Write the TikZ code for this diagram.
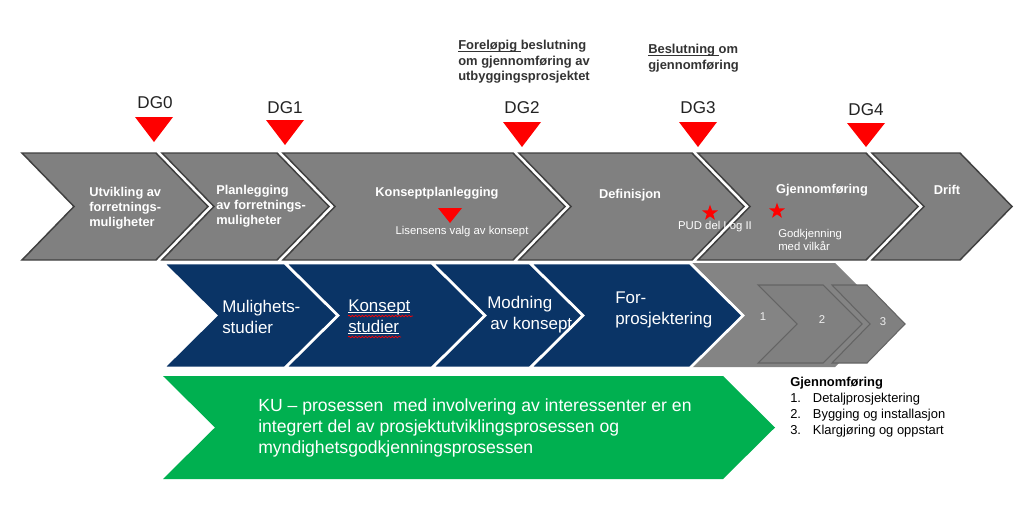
\documentclass[tikz,border=0pt]{standalone}
\usepackage{fontspec}
\setmainfont{Liberation Sans}
\usetikzlibrary{shapes.geometric,decorations.pathmorphing}
\definecolor{chgrey}{RGB}{128,128,128}
\definecolor{chgreyb}{RGB}{132,132,132}
\definecolor{chborder}{RGB}{64,64,64}
\definecolor{execline}{RGB}{100,100,100}
\definecolor{navy}{RGB}{10,52,102}
\definecolor{kugreen}{RGB}{0,176,80}
\definecolor{dgtext}{RGB}{34,34,34}
\definecolor{toptext}{RGB}{51,51,51}
\definecolor{numtext}{RGB}{238,238,238}
\newcommand{\chevshape}[6]{% style, L, R, top, bottom, depth
  \path[#1] (#2,#4) -- (#3,#4) -- ({#3+#6},{(#4+#5)/2}) -- (#3,#5) -- (#2,#5) -- ({#2+#6},{(#4+#5)/2}) -- cycle;}
\newcommand{\dgtri}[4]{% cx, top, bottom, halfwidth
  \fill[red] ({#1-#4},#2) -- ({#1+#4},#2) -- (#1,#3) -- cycle;}
\newsavebox{\ulbox}
\newcommand{\ulword}[1]{\sbox{\ulbox}{#1}\rlap{\rule[-1.4pt]{\wd\ulbox}{0.6pt}}\usebox{\ulbox}}
\tikzset{
  toprow/.style={fill=chgrey, draw=chborder, line width=1.1pt, line join=miter},
  bluerow/.style={fill=navy, draw=white, line width=2pt, line join=miter},
  greenrow/.style={fill=kugreen},
  execbig/.style={fill=chgreyb},
  execsmall/.style={fill=chgrey, draw=execline, line width=0.8pt, line join=miter},
  phasetxt/.style={text=white, inner sep=0pt, align=left, font=\fontsize{9.6}{11.25}\selectfont\bfseries},
  smalltxt/.style={text=white, inner sep=0pt, align=left, font=\fontsize{8.5}{9.75}\selectfont},
  bluetxt/.style={text=white, inner sep=0pt, align=left, font=\fontsize{12.7}{15.75}\selectfont},
  greentxt/.style={text=white, inner sep=0pt, align=left, font=\fontsize{13.2}{15.75}\selectfont},
  dglabel/.style={text=dgtext, inner sep=0pt, font=\fontsize{12.8}{14}\selectfont},
  toplabel/.style={text=toptext, inner sep=0pt, align=left, font=\fontsize{9.7}{11.6}\selectfont\bfseries},
  listtxt/.style={text=black, inner sep=0pt, align=left, font=\fontsize{9.7}{12}\selectfont},
  numtxt/.style={text=numtext, inner sep=0pt, font=\fontsize{8.5}{10}\selectfont},
  redstar/.style={star, star points=5, star point ratio=2.5, fill=red, inner sep=0pt, minimum size=12.5pt},
  squiggle/.style={red, line width=0.5pt, decorate, decoration={snake, amplitude=0.6pt, segment length=2.5pt}}
}
\begin{document}
\begin{tikzpicture}[x=0.75pt,y=-0.75pt]
\useasboundingbox[fill=white] (0,0) rectangle (1023,529);

% ---------- top row of phases ----------
\chevshape{toprow}{22}{156}{153}{260}{52}
\chevshape{toprow}{162}{277}{153}{260}{52}
\chevshape{toprow}{283}{513}{153}{260}{52}
\chevshape{toprow}{519}{692}{153}{260}{52}
\chevshape{toprow}{698}{866}{153}{260}{52}
\chevshape{toprow}{872}{960}{153}{260}{52}

\node[phasetxt, anchor=west] (p1) at (89,208) {Utvikling av\\forretnings-\\muligheter};
\node[phasetxt, anchor=west] (p2) at (216,206) {Planlegging\\av forretnings-\\muligheter};
\node[phasetxt] (p3) at (437,193) {Konseptplanlegging};
\node[phasetxt] (p4) at (630,195) {Definisjon};
\node[phasetxt] (p5) at (822,190) {Gjennomføring};
\node[phasetxt] (p6) at (947,190) {Drift};

\dgtri{450}{208}{223}{12}
\node[smalltxt] (lis) at (462,232) {Lisensens valg av konsept};
\node[redstar] (s1) at (710,213) {};
\node[smalltxt] (pud) at (715,227) {PUD del I og II};
\node[redstar] (s2) at (777,211) {};
\node[smalltxt, anchor=west] (godk) at (778,240) {Godkjenning\\med vilkår};

% ---------- decision gates ----------
\dgtri{154}{117}{142}{19}
\dgtri{285}{120}{145}{19}
\dgtri{522}{122}{147}{19}
\dgtri{698}{122}{147}{19}
\dgtri{866}{123}{147}{19}
\node[dglabel] (dg0) at (155,103) {DG0};
\node[dglabel] (dg1) at (285,108) {DG1};
\node[dglabel] (dg2) at (522,108) {DG2};
\node[dglabel] (dg3) at (698,108) {DG3};
\node[dglabel] (dg4) at (866,110) {DG4};

\node[toplabel, anchor=west] (t2) at (458,62) {\ulword{Foreløpig }beslutning\\om gjennomføring av\\utbyggingsprosjektet};
\node[toplabel, anchor=west] (t3) at (648,58) {\ulword{Beslutning }om\\gjennomføring};

% ---------- execution chevrons (grey, behind) ----------
\chevshape{execbig}{692}{835}{263}{367}{52}
\chevshape{execsmall}{758}{823}{285}{363}{39}
\chevshape{execsmall}{832}{867}{285}{363}{38}
\node[numtxt] (n1) at (763,317) {1};
\node[numtxt] (n2) at (822,320) {2};
\node[numtxt] (n3) at (883,322) {3};

% ---------- blue row ----------
\chevshape{bluerow}{163}{285}{263}{368}{53}
\chevshape{bluerow}{285}{432}{263}{368}{53}
\chevshape{bluerow}{432}{530}{263}{368}{53}
\chevshape{bluerow}{530}{690}{263}{368}{53}

\node[bluetxt, anchor=west] (b1) at (222,317) {Mulighets-\\studier};
\node[bluetxt, anchor=west] (b2) at (348,317) {\ulword{Konsept}\\\ulword{studier}};
\draw[squiggle] (348,316) -- (413,316);
\draw[squiggle] (348,337) -- (401,337);
\node[bluetxt, anchor=west] (b3a) at (487,304) {Modning};
\node[bluetxt, anchor=west] (b3b) at (490,325) {av konsept};
\node[bluetxt, anchor=west] (b4) at (615,310) {For-\\prosjektering};

% ---------- green KU banner ----------
\chevshape{greenrow}{163}{723}{376}{479}{52}
\node[greentxt, anchor=west] (ku) at (258,428) {KU – prosessen\ \ med involvering av interessenter er en\\integrert del av prosjektutviklingsprosessen og\\myndighetsgodkjenningsprosessen};

% ---------- list ----------
\node[listtxt, anchor=north west] (list) at (790,377) {\textbf{Gjennomføring}\\
\makebox[17pt][l]{1.}Detaljprosjektering\\
\makebox[17pt][l]{2.}Bygging og installasjon\\
\makebox[17pt][l]{3.}Klargjøring og oppstart};
\end{tikzpicture}
\end{document}
